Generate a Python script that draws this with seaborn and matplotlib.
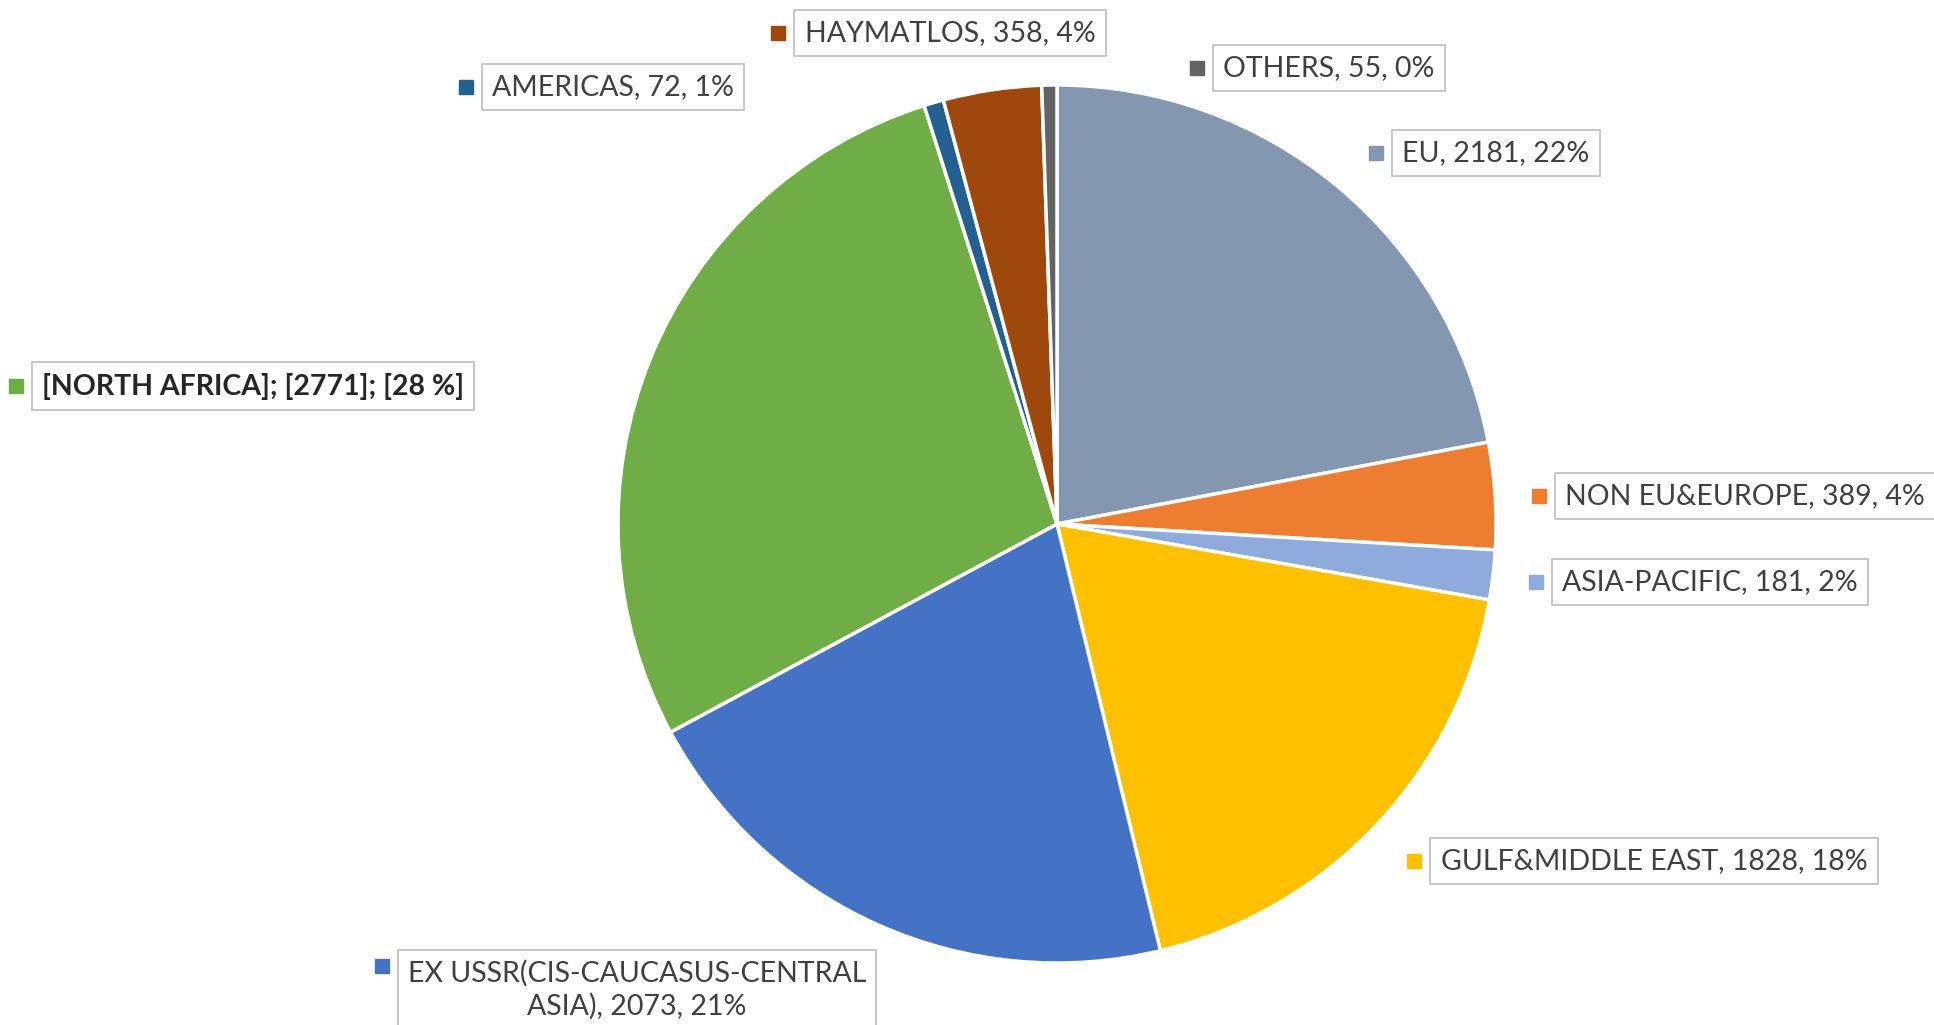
import matplotlib
matplotlib.use("Agg")
import matplotlib.pyplot as plt
import seaborn as sns

categories = ["EU", "NON EU&EUROPE", "ASIA-PACIFIC", "GULF&MIDDLE EAST",
              "EX USSR(CIS-CAUCASUS-CENTRAL ASIA)", "NORTH AFRICA", "AMERICAS",
              "HAYMATLOS", "OTHERS"]
values = [2181, 389, 181, 1828, 2073, 2771, 72, 358, 55]
percent_labels = ["22%", "4%", "2%", "18%", "21%", "28 %", "1%", "4%", "0%"]
label_texts = [
    "EU, 2181, 22%",
    "NON EU&EUROPE, 389, 4%",
    "ASIA-PACIFIC, 181, 2%",
    "GULF&MIDDLE EAST, 1828, 18%",
    "EX USSR(CIS-CAUCASUS-CENTRAL\nASIA), 2073, 21%",
    "[NORTH AFRICA]; [2771]; [28 %]",
    "AMERICAS, 72, 1%",
    "HAYMATLOS, 358, 4%",
    "OTHERS, 55, 0%",
]
colors = ["#8497B0", "#ED7D31", "#8FAADC", "#FFC000", "#4472C4",
          "#70AD47", "#255E91", "#9E480E", "#636363"]

# layout (pixel positions of label centres)
W, H = 1934, 1025
label_pos = [(1496, 153), (1745, 496), (1710, 582), (1654, 861), (637, 990),
             (253, 386), (613, 87), (950, 33), (1329, 68)]

sns.set_theme(style="white")
plt.rcParams['font.family'] = ['Lato', 'DejaVu Sans']

fig = plt.figure(figsize=(W / 100, H / 100), dpi=100)
ax = fig.add_axes([0, 0, 1, 1])
ax.set_xlim(0, W)
ax.set_ylim(0, H)
ax.set_aspect('equal')
ax.axis('off')

palette = sns.color_palette(colors)
cx, cy, r = 1057, H - 524, 439
ax.pie(values, colors=palette, startangle=90, counterclock=False,
       center=(cx, cy), radius=r,
       wedgeprops=dict(edgecolor='white', linewidth=2.5))
ax.set_xlim(0, W)
ax.set_ylim(0, H)

texts = []
for i, txt in enumerate(label_texts):
    x, y = label_pos[i]
    bold = categories[i] == "NORTH AFRICA"
    t = ax.text(x, H - y, txt, ha='center', va='center', fontsize=20.5,
                color='#262626' if bold else '#404040',
                fontweight='bold' if bold else 'normal',
                linespacing=1.3,
                bbox=dict(boxstyle='square,pad=0.36', facecolor='white',
                          edgecolor='#BFBFBF', linewidth=1.2))
    texts.append(t)

fig.canvas.draw()
renderer = fig.canvas.get_renderer()
inv = ax.transData.inverted()
for i, t in enumerate(texts):
    bb = t.get_bbox_patch().get_window_extent(renderer)
    x0, _ = inv.transform((bb.x0, bb.y0))
    x, y = label_pos[i]
    if i == 4:
        my = H - 966
    else:
        my = H - y
    ax.plot([x0 - 16], [my], marker='s', markersize=10, color=colors[i],
            linestyle='none')

fig.savefig("out.png", dpi=100, facecolor='white')
